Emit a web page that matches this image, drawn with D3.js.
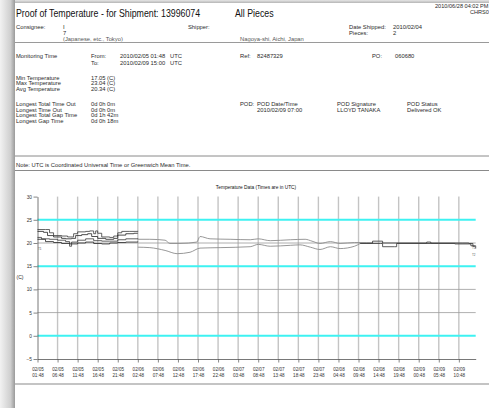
<!DOCTYPE html>
<html><head><meta charset="utf-8">
<script src="https://cdn.jsdelivr.net/npm/d3@7"></script>
<style>html,body{margin:0;padding:0;background:#fff;overflow:hidden}svg{display:block}text{font-family:"Liberation Sans",Arial,sans-serif}</style>
</head><body>
<script>
// ---- data ----
const yTicks = [-5, 0, 5, 10, 15, 20, 25, 30];
const limitLines = [25, 15, 0];
const xTickHours = [0,5,10,15,20,25,30,35,40,45,50,55,60,65,70,75,80,85,90,95,100,105];
const xTickDates = ["02/05","02/05","02/05","02/05","02/05","02/06","02/06","02/06","02/06","02/06","02/07","02/07","02/07","02/07","02/07","02/08","02/08","02/08","02/08","02/09","02/09","02/09"];
const xTickTimes = ["01:48","06:48","11:48","16:48","21:48","02:48","07:48","12:48","17:48","22:48","03:48","08:48","13:48","18:48","23:48","04:48","09:48","14:48","19:48","00:48","05:48","10:48"];
const totalHours = 109.2;
// series: [hours since 02/05 01:48, temperature C]
const sensorA = [[0,22.9],[2,22.9],[3,22.2],[4,21.6],[6,21.5],[7.5,21.3],[9,22.0],[10,22.4],[12,22.5],[13,22.6],[14,22.0],[14.5,22.6],[15,22.1],[16,21.3],[18,21.2],[19,21.5],[20,22.2],[21,22.5],[23,22.5],[25,22.6]];
const sensorB = [[0,22.5],[1.5,22.3],[2.5,21.6],[4,21.3],[6,21.0],[7,20.9],[8.5,21.0],[9.5,21.6],[11,21.8],[12.5,22.0],[13.5,21.4],[15,21.0],[17,20.8],[19,21.0],[20,21.7],[22,22.0],[24,22.1],[25,22.1]];
const sensorC = [[0,21.2],[1,20.9],[3,20.8],[5,20.6],[7,20.3],[8,19.3],[8.5,20.2],[10,20.6],[12,20.9],[14,20.5],[16,20.4],[18,20.4],[20,20.7],[22,20.9],[25,21.0]];
const sensorD = [[0,20.8],[2,20.3],[4,20.1],[6,19.9],[8,19.8],[10,20.0],[12,20.2],[14,19.9],[16,19.8],[18,20.0],[20,20.1],[22,20.2],[25,20.3]];
const piece1Mid = [[25,20.8],[28,20.8],[31.8,20.6],[33,19.9],[35.5,19.9],[39.7,20.2],[40.5,21.4],[43,20.9],[48,20.8],[53,20.7],[55,20.9],[58,20.5],[63,20.7],[66.7,20.8],[68.4,20.4],[70.4,19.9],[73,20.3],[75.4,19.9],[79,20.1],[80.4,20.1]];
const piece2Mid = [[25,19.1],[28,19.0],[31.8,18.4],[34.8,17.7],[38,18.0],[40.5,18.9],[45.5,19.0],[53,19.2],[55,19.7],[58,19.3],[63,19.5],[65.4,19.6],[68,19.1],[70.4,18.6],[73,19.2],[75.4,18.8],[79,19.3],[80.4,19.9]];
const piece1End = [[80.4,20.0],[82,20.0],[83.5,20.4],[85,20.4],[86,20.0],[95,20.0],[97,20.2],[98,20.0],[106,20.0],[107.5,19.9],[108.5,19.3],[109,19.3]];
const piece2End = [[80.4,19.9],[85.5,19.9],[86,19.2],[89,19.2],[89.5,19.9],[100,19.9],[104,19.8],[107.5,19.8],[108,19.4],[109.2,18.8]];

// ---- drawing ----
const W = 489, H = 408;
const svg = d3.select("body").append("svg").attr("width", W).attr("height", H);
const defs = svg.append("defs");
const lg = defs.append("linearGradient").attr("id","ls").attr("x1","0").attr("x2","1");
lg.append("stop").attr("offset","0").attr("stop-color","#f2f2f2");
lg.append("stop").attr("offset","0.7").attr("stop-color","#cfcfcf");
lg.append("stop").attr("offset","1").attr("stop-color","#9a9a9a");
const tg = defs.append("linearGradient").attr("id","ts").attr("x1","0").attr("x2","0").attr("y1","0").attr("y2","1");
tg.append("stop").attr("offset","0").attr("stop-color","#e6e6e6");
tg.append("stop").attr("offset","1").attr("stop-color","#b5b5b5");

svg.append("rect").attr("width",W).attr("height",H).attr("fill","#fff");
svg.append("rect").attr("x",0).attr("y",0).attr("width",W).attr("height",3).attr("fill","url(#ts)");
svg.append("rect").attr("x",0).attr("y",0).attr("width",15).attr("height",H).attr("fill","url(#ls)");

function txt(x, y, s, size, opt) {
  opt = opt || {};
  const sx = opt.sx || 1;
  const t = svg.append("text")
    .attr("transform", `translate(${x},${y}) scale(${sx},1)`)
    .attr("font-size", size)
    .attr("fill", opt.fill || "#2a2a2a")
    .attr("text-anchor", opt.anchor || "start")
    .text(s);
  if (opt.bold) t.attr("font-weight", "bold");
  return t;
}

// header
txt(16, 16.5, "Proof of Temperature - for Shipment: 13996074", 11, {sx: 0.8, fill:"#111"});
txt(235, 16.5, "All Pieces", 11, {sx: 0.8, fill:"#111"});
txt(435, 8, "2010/06/28 04:02 PM", 5.6);
txt(470, 14, "CHRS0", 5.6);

const fs = 5.8;
txt(16, 29, "Consignee:", fs);
txt(63, 29, "I", fs);
txt(63, 35, "7", fs);
txt(63, 41, "(Japanese, etc., Tokyo)", fs, {fill:"#555"});
txt(188, 29, "Shipper:", fs);
txt(240, 41, "Nagoya-shi, Aichi, Japan", fs, {fill:"#555"});
txt(349, 29, "Date Shipped:", fs);
txt(393, 29, "2010/02/04", fs);
txt(349, 35, "Pieces:", fs);
txt(393, 35, "2", fs);
svg.append("rect").attr("x",15).attr("y",41.5).attr("width",W-15).attr("height",4).attr("fill","#fff");
svg.append("line").attr("x1",15).attr("x2",W).attr("y1",42.5).attr("y2",42.5).attr("stroke","#9a9a9a").attr("stroke-width",1.2);

txt(16, 58, "Monitoring Time", fs);
txt(91, 58, "From:", fs);
txt(120, 58, "2010/02/05 01:48", fs);
txt(170, 58, "UTC", fs);
txt(91, 64.5, "To:", fs);
txt(120, 64.5, "2010/02/09 15:00", fs);
txt(170, 64.5, "UTC", fs);
txt(240, 58, "Ref:", fs);
txt(257, 58, "82487329", fs);
txt(372, 58, "PO:", fs);
txt(395, 58, "060680", fs);

txt(16, 79.5, "Min Temperature", fs);
txt(16, 85, "Max Temperature", fs);
txt(16, 90.5, "Avg Temperature", fs);
txt(91, 79.5, "17.05 (C)", fs);
txt(91, 85, "23.04 (C)", fs);
txt(91, 90.5, "20.34 (C)", fs);

txt(16, 106, "Longest Total Time Out", fs);
txt(16, 111.5, "Longest Time Out", fs);
txt(16, 117, "Longest Total Gap Time", fs);
txt(16, 122.5, "Longest Gap Time", fs);
txt(91, 106, "0d 0h 0m", fs);
txt(91, 111.5, "0d 0h 0m", fs);
txt(91, 117, "0d 1h 42m", fs);
txt(91, 122.5, "0d 0h 18m", fs);
txt(240, 106, "POD:", fs);
txt(257, 106, "POD Date/Time", fs);
txt(257, 111.5, "2010/02/09 07:00", fs);
txt(337, 106, "POD Signature", fs);
txt(337, 111.5, "LLOYD   TANAKA", fs);
txt(407, 106, "POD Status", fs);
txt(407, 111.5, "Delivered OK", fs);

svg.append("line").attr("x1",15).attr("x2",W).attr("y1",156).attr("y2",156).attr("stroke","#8a8a8a").attr("stroke-width",1);
txt(16, 166.5, "Note:  UTC is Coordinated Universal Time or Greenwich Mean Time.", fs);
svg.append("line").attr("x1",15).attr("x2",W).attr("y1",170.5).attr("y2",170.5).attr("stroke","#8a8a8a").attr("stroke-width",1);

// chart
const x = d3.scaleLinear().domain([0, totalHours]).range([37.5, 475.7]);
const y = d3.scaleLinear().domain([-5, 30]).range([359, 196.6]);

txt(256, 189, "Temperature Data  (Times are in UTC)", 4.8, {anchor:"middle", fill:"#111"});
txt(20, 279, "(C)", 5, {anchor:"middle"});

// vertical grid
svg.append("g").selectAll("line").data(xTickHours.slice(1)).join("line")
  .attr("x1", d => x(d)).attr("x2", d => x(d))
  .attr("y1", y(30)).attr("y2", y(-5))
  .attr("stroke", "#c4c4c4").attr("stroke-width", 1.4);
// horizontal grid (non limit)
svg.append("g").selectAll("line").data(yTicks.filter(v => v !== -5 && !limitLines.includes(v) && v !== 30)).join("line")
  .attr("x1", x(0)).attr("x2", x(totalHours))
  .attr("y1", d => y(d)).attr("y2", d => y(d))
  .attr("stroke", "#9a9a9a").attr("stroke-width", 0.8);
// limit lines
svg.append("g").selectAll("line").data(limitLines).join("line")
  .attr("x1", x(0)).attr("x2", x(totalHours))
  .attr("y1", d => y(d)).attr("y2", d => y(d))
  .attr("stroke", "#3ef2f2").attr("stroke-width", 2);

// axes
const yAxis = d3.axisLeft(y).tickValues(yTicks).tickSize(4).tickSizeOuter(0).tickPadding(1.5);
const gy = svg.append("g").attr("transform", `translate(${x(0)},0)`).call(yAxis);
gy.selectAll("text").attr("font-size", 4.8).attr("fill", "#333").attr("font-family", '"Liberation Sans",Arial,sans-serif');
gy.selectAll("line").attr("stroke", "#555").attr("stroke-width", 0.7);
gy.select(".domain").attr("stroke", "#555").attr("stroke-width", 0.8);

const xAxis = d3.axisBottom(x).tickValues(xTickHours).tickSize(3.5).tickSizeOuter(0).tickFormat("");
const gx = svg.append("g").attr("transform", `translate(0,${y(-5)})`).call(xAxis);
gx.selectAll("line").attr("stroke", "#555").attr("stroke-width", 0.7);
gx.select(".domain").attr("stroke", "#555").attr("stroke-width", 0.8);
gx.selectAll(".tick").each(function(d, i) {
  const t = d3.select(this).append("text").attr("fill", "#333").attr("font-size", 4.6)
    .attr("text-anchor", "middle").attr("font-family", '"Liberation Sans",Arial,sans-serif');
  t.append("tspan").attr("x", 0).attr("y", 12).text(xTickDates[i]);
  t.append("tspan").attr("x", 0).attr("y", 18).text(xTickTimes[i]);
});

// data lines
const stepLine = d3.line().x(d => x(d[0])).y(d => y(d[1])).curve(d3.curveStepAfter);
const smoothLine = d3.line().x(d => x(d[0])).y(d => y(d[1])).curve(d3.curveMonotoneX);
[[piece1Mid, "#8c8c8c"], [piece2Mid, "#8c8c8c"]].forEach(([s, c]) => {
  svg.append("path").attr("d", smoothLine(s)).attr("fill", "none").attr("stroke", c).attr("stroke-width", 0.9);
});
[sensorA, sensorB, sensorC, sensorD].forEach((s, i) => {
  svg.append("path").attr("d", stepLine(s)).attr("fill", "none").attr("stroke", i % 2 ? "#222" : "#3a3a3a").attr("stroke-width", 0.8);
});
[piece1End, piece2End].forEach(s => {
  svg.append("path").attr("d", stepLine(s)).attr("fill", "none").attr("stroke", "#333").attr("stroke-width", 0.8);
});
txt(38, 249.5, "T1", 3, {fill:"#555"});
txt(472, 249, "T1", 3, {fill:"#555"});
txt(472, 256, "T2", 3, {fill:"#555"});

// bottom rule
svg.append("line").attr("x1",15).attr("x2",W).attr("y1",384).attr("y2",384).attr("stroke","#8a8a8a").attr("stroke-width",1.2);
</script>
</body></html>
